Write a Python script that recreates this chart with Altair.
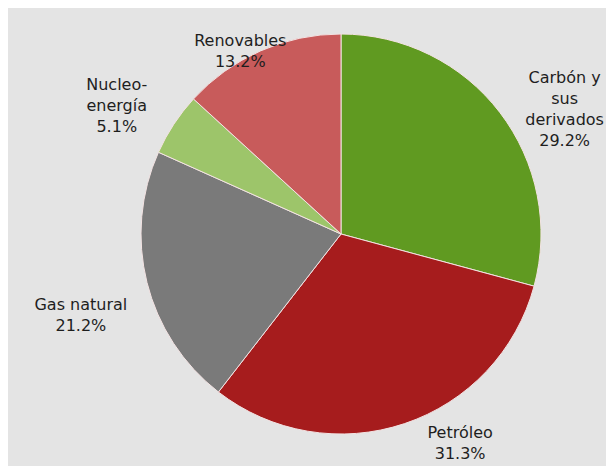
import altair as alt
import pandas as pd

categories = ["Carbón y sus derivados", "Petróleo", "Gas natural", "Nucleo-energía", "Renovables"]
label_lines = ["Carbón y\nsus\nderivados", "Petróleo", "Gas natural", "Nucleo-\nenergía", "Renovables"]
values = [29.2, 31.3, 21.2, 5.1, 13.2]
colors = ["#609a21", "#a61c1d", "#7a7a7a", "#9dc56a", "#c85b5b"]

df = pd.DataFrame({
    "cat": categories,
    "value": values,
    "idx": list(range(len(categories))),
    "label": [f"{l}\n{v:.1f}%" for l, v in zip(label_lines, values)],
})

# label offsets (style) relative to the polar anchor
offsets = {
    "Carbón y sus derivados": (41, -16),
    "Petróleo": (46, -19),
    "Gas natural": (-37, 15),
    "Nucleo-energía": (-32, -23),
    "Renovables": (-8, 18),
}

theta_scale = alt.Scale(domain=[0, 100])
base = alt.Chart(df)

pie = base.mark_arc(outerRadius=200, stroke="#f3e3e3", strokeWidth=1).encode(
    theta=alt.Theta("value:Q", stack=True, scale=theta_scale),
    color=alt.Color("cat:N", scale=alt.Scale(domain=categories, range=colors), legend=None),
    order=alt.Order("idx:Q"),
)

layers = [pie]
for c in categories:
    dx, dy = offsets[c]
    t = (
        base.transform_window(cum="sum(value)", sort=[alt.SortField("idx")])
        .transform_calculate(mid="datum.cum - datum.value / 2")
        .transform_filter(alt.datum.cat == c)
        .mark_text(radius=230, dx=dx, dy=dy, fontSize=16, lineHeight=21,
                   font="DejaVu Sans", color="#1e1e1e", lineBreak="\n",
                   align="center", baseline="middle")
        .encode(theta=alt.Theta("mid:Q", stack=False, scale=theta_scale), text="label:N")
    )
    layers.append(t)

chart = (
    alt.layer(*layers)
    .properties(
        width=530,
        height=452,
        padding={"left": 68, "right": 0, "top": 0, "bottom": 6},
        autosize=alt.AutoSizeParams(type="none"),
        background="#e4e4e4",
    )
    .configure_view(strokeWidth=0)
)

chart.save("out.html", embed_options={"renderer": "svg", "actions": False})
